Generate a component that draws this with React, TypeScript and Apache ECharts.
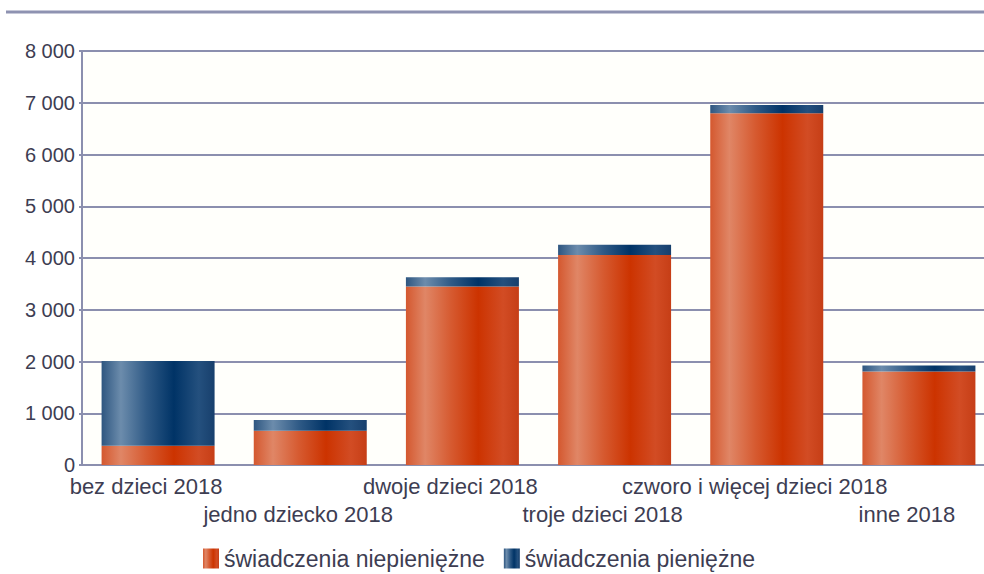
import React, { useEffect, useRef } from "react";
import * as echarts from "echarts";

const categories = [
  "bez dzieci 2018",
  "jedno dziecko 2018",
  "dwoje dzieci 2018",
  "troje dzieci 2018",
  "czworo i więcej dzieci 2018",
  "inne 2018",
];
const seriesNames = ["świadczenia niepieniężne", "świadczenia pieniężne"];
const niepieniezne = [370, 660, 3450, 4060, 6795, 1805];
const pieniezne = [1640, 210, 180, 195, 160, 116];
const yTicks = { min: 0, max: 8000, interval: 1000 };

const TEXT = "#3d3d52";
const GRID = "#8b8fae";
const FONT = "'Liberation Sans', Arial, Helvetica, sans-serif";

const grad = (stops: [number, string][]) =>
  new echarts.graphic.LinearGradient(
    0,
    0,
    1,
    0,
    stops.map(([offset, color]) => ({ offset, color }))
  );

const orangeGrad = () =>
  grad([
    [0, "#d4582f"],
    [0.17, "#e08666"],
    [0.4, "#d65a30"],
    [0.64, "#cc3300"],
    [0.86, "#d24c24"],
    [1, "#c63e16"],
  ]);
const blueGrad = () =>
  grad([
    [0, "#2e5680"],
    [0.17, "#6c8cac"],
    [0.4, "#2f5a86"],
    [0.64, "#003366"],
    [0.86, "#24507e"],
    [1, "#173f6c"],
  ]);

const fmt = (v: number) => String(v).replace(/\B(?=(\d{3})+(?!\d))/g, " ");

export default function App() {
  const ref = useRef<HTMLDivElement>(null);
  useEffect(() => {
    if (!ref.current) return;
    const chart = echarts.init(ref.current, undefined, { renderer: "svg" });
    chart.setOption({
      animation: false,
      backgroundColor: "#ffffff",
      textStyle: { fontFamily: FONT, color: TEXT },
      graphic: [
        {
          type: "rect",
          shape: { x: 6, y: 10.5, width: 990, height: 3 },
          style: { fill: "#8e92b1" },
          silent: true,
        },
      ],
      grid: {
        left: 82,
        right: 0,
        top: 51,
        bottom: 109,
        show: true,
        backgroundColor: "#fffffb",
        borderWidth: 0,
      },
      legend: {
        left: 203,
        top: 547,
        padding: 0,
        itemWidth: 16,
        itemHeight: 20,
        itemGap: 19,
        icon: "rect",
        data: seriesNames,
        textStyle: { fontFamily: FONT, fontSize: 23, lineHeight: 22, color: TEXT },
      },
      xAxis: {
        type: "category",
        data: categories,
        axisLine: { show: true, lineStyle: { color: GRID, width: 2 } },
        axisTick: { show: false },
        axisLabel: {
          interval: 0,
          hideOverlap: false,
          fontFamily: FONT,
          fontSize: 22,
          lineHeight: 28,
          color: TEXT,
          margin: 7,
          padding: [0, 24, 0, 0],
          formatter: (v: string, i: number) => (i % 2 === 1 ? "\n" + v : v),
        },
      },
      yAxis: {
        type: "value",
        min: yTicks.min,
        max: yTicks.max,
        interval: yTicks.interval,
        axisLine: { show: true, lineStyle: { color: GRID, width: 2 } },
        axisTick: { show: true, length: 3, lineStyle: { color: GRID, width: 2 } },
        splitLine: { show: true, lineStyle: { color: GRID, width: 2 } },
        axisLabel: {
          fontFamily: FONT,
          fontSize: 20,
          color: TEXT,
          margin: 7,
          formatter: (v: number) => fmt(v),
        },
      },
      series: [
        {
          name: seriesNames[0],
          type: "bar",
          stack: "total",
          data: niepieniezne,
          barWidth: 113,
          itemStyle: { color: orangeGrad() },
        },
        {
          name: seriesNames[1],
          type: "bar",
          stack: "total",
          data: pieniezne,
          barWidth: 113,
          itemStyle: { color: blueGrad() },
        },
      ],
    });
    return () => chart.dispose();
  }, []);
  return (
    <div
      style={{
        position: "fixed",
        left: 0,
        top: 0,
        width: 984,
        height: 574,
        overflow: "hidden",
        background: "#ffffff",
      }}
    >
      <div ref={ref} style={{ width: 995, height: 574 }} />
    </div>
  );
}
